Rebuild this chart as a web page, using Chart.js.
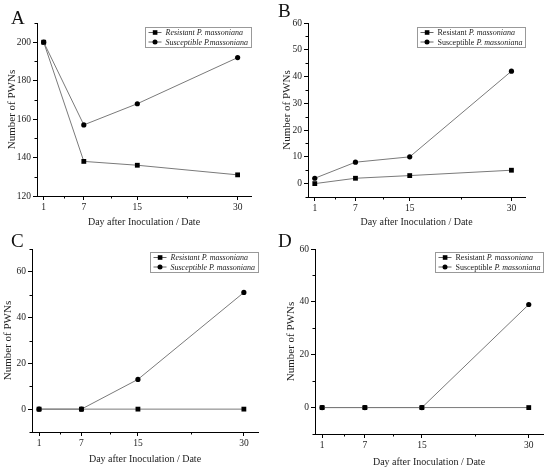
<!DOCTYPE html>
<html>
<head>
<meta charset="utf-8">
<script src="https://cdn.jsdelivr.net/npm/chart.js@4"></script>
<style>
  body { margin: 0; background: #fff; }
  #wrap { position: relative; width: 550px; height: 471px; overflow: hidden; }
  .panel { position: absolute; width: 275px; height: 235px; }
  .letter { position: absolute; font: 19px "Liberation Serif", serif; line-height: 1; color: #111; }
</style>
</head>
<body>
<div id="wrap">
  <div class="panel" style="left:0;top:0"><canvas id="chartA" width="275" height="235"></canvas></div>
  <div class="panel" style="left:275px;top:0"><canvas id="chartB" width="275" height="235"></canvas></div>
  <div class="panel" style="left:0;top:235px"><canvas id="chartC" width="275" height="235"></canvas></div>
  <div class="panel" style="left:275px;top:235px"><canvas id="chartD" width="275" height="235"></canvas></div>
  <div class="letter" style="left:11px;top:8px">A</div>
  <div class="letter" style="left:278px;top:1px">B</div>
  <div class="letter" style="left:11px;top:231px">C</div>
  <div class="letter" style="left:278px;top:231px">D</div>
</div>
<script>
// days sampled
const days = [1, 7, 15, 30];
const xTicks = [1, 7, 15, 30];
const xMinorTicks = [4, 11, 22.5];

// A
const resistantA = [200, 138, 136, 131];
const susceptibleA = [200, 157, 168, 192];
const yTicksA = [120, 140, 160, 180, 200];
const yMinorA = [130, 150, 170, 190, 210];

// B
const resistantB = [0, 2, 3, 5];
const susceptibleB = [2, 8, 10, 42];
const yTicksB = [0, 10, 20, 30, 40, 50, 60];
const yMinorB = [-5, 5, 15, 25, 35, 45, 55];

// C
const resistantC = [0, 0, 0, 0];
const susceptibleC = [0, 0, 13, 51];
const yTicksC = [0, 20, 40, 60];
const yMinorC = [-10, 10, 30, 50, 70];

// D
const resistantD = [0, 0, 0, 0];
const susceptibleD = [0, 0, 0, 39];
const yTicksD = [0, 20, 40, 60];
const yMinorD = [-10, 10, 30, 50];

const serif = "Liberation Serif";

// minor ticks + legend box inside the plot
const extras = {
  id: "extras",
  afterDraw(chart, args, opts) {
    const { ctx, chartArea } = chart;
    const x = chart.scales.x, y = chart.scales.y;
    ctx.save();
    ctx.strokeStyle = "#000";
    ctx.lineWidth = 1;
    ctx.beginPath();
    opts.xMinor.forEach((v) => {
      const px = Math.round(x.getPixelForValue(v)) + 0.5;
      ctx.moveTo(px, chartArea.bottom);
      ctx.lineTo(px, chartArea.bottom + 2.5);
    });
    opts.yMinor.forEach((v) => {
      const py = Math.round(y.getPixelForValue(v)) + 0.5;
      ctx.moveTo(chartArea.left, py);
      ctx.lineTo(chartArea.left - 2.5, py);
    });
    ctx.stroke();

    // legend
    const fontUp = "8px '" + serif + "'";
    const fontIt = "italic 8px '" + serif + "'";
    let maxW = 0;
    opts.items.forEach((it) => {
      ctx.font = it.allItalic ? fontIt : fontUp;
      let w = ctx.measureText(it.a).width;
      ctx.font = fontIt;
      w += ctx.measureText(it.b).width;
      maxW = Math.max(maxW, w);
    });
    const bw = Math.round(20 + maxW + 3);
    const bh = 20;
    const bx = Math.round(chartArea.right - bw) + 0.5;
    const by = Math.round(chartArea.top + opts.legendTop) + 0.5;
    ctx.strokeStyle = "#999";
    ctx.strokeRect(bx, by, bw, bh);
    opts.items.forEach((it, i) => {
      const cy = by + 5 + i * 9.5;
      ctx.strokeStyle = "#666";
      ctx.beginPath();
      ctx.moveTo(bx + 3, cy);
      ctx.lineTo(bx + 16, cy);
      ctx.stroke();
      ctx.fillStyle = "#000";
      ctx.beginPath();
      if (it.square) {
        ctx.rect(bx + 7.3, cy - 2.3, 4.6, 4.6);
      } else {
        ctx.arc(bx + 9.5, cy, 2.5, 0, Math.PI * 2);
      }
      ctx.fill();
      ctx.fillStyle = "#222";
      ctx.textBaseline = "middle";
      ctx.font = it.allItalic ? fontIt : fontUp;
      ctx.fillText(it.a, bx + 20, cy + 0.5);
      const w = ctx.measureText(it.a).width;
      ctx.font = fontIt;
      ctx.fillText(it.b, bx + 20 + w, cy + 0.5);
    });
    ctx.restore();
  },
};

function makeChart(id, res, sus, yMin, yMax, yTicks, yMinor, box, titleLeft, legend) {
  const ctx = document.getElementById(id).getContext("2d");
  return new Chart(ctx, {
    type: "line",
    data: {
      datasets: [
        {
          label: "Resistant P. massoniana",
          data: days.map((d, i) => ({ x: d, y: res[i] })),
          borderColor: "#7a7a7a",
          borderWidth: 1,
          pointStyle: "rect",
          pointRadius: 3.4,
          pointBackgroundColor: "#000",
          pointBorderColor: "#000",
          pointBorderWidth: 0,
        },
        {
          label: "Susceptible P. massoniana",
          data: days.map((d, i) => ({ x: d, y: sus[i] })),
          borderColor: "#7a7a7a",
          borderWidth: 1,
          pointStyle: "circle",
          pointRadius: 2.6,
          pointBackgroundColor: "#000",
          pointBorderColor: "#000",
          pointBorderWidth: 0,
        },
      ],
    },
    options: {
      responsive: false,
      animation: false,
      clip: false,
      layout: { padding: { left: 0, top: box.top, right: 275 - box.right, bottom: 0 } },
      plugins: {
        legend: { display: false },
        tooltip: { enabled: false },
        extras: { xMinor: xMinorTicks, yMinor: yMinor, items: legend.items, legendTop: legend.top },
      },
      scales: {
        x: {
          type: "linear",
          min: 0,
          max: 32,
          afterBuildTicks: (s) => { s.ticks = xTicks.map((v) => ({ value: v })); },
          afterFit: (s) => { s.height = 235 - box.bottom; },
          grid: { drawOnChartArea: false, drawTicks: true, tickLength: 4, tickColor: "#000" },
          border: { display: true, color: "#000", width: 1 },
          ticks: { font: { family: serif, size: 9.5 }, color: "#222", padding: 2, maxRotation: 0 },
          title: {
            display: true,
            text: "Day after Inoculation / Date",
            font: { family: serif, size: 10 },
            color: "#222",
            padding: { top: 0, bottom: box.xTitle },
          },
        },
        y: {
          min: yMin,
          max: yMax,
          afterBuildTicks: (s) => { s.ticks = yTicks.map((v) => ({ value: v })); },
          afterFit: (s) => { s.width = box.left; },
          grid: { drawOnChartArea: false, drawTicks: true, tickLength: 4, tickColor: "#000" },
          border: { display: true, color: "#000", width: 1 },
          ticks: { font: { family: serif, size: 9.5 }, color: "#222", padding: 2 },
          title: {
            display: true,
            text: "Number of PWNs",
            font: { family: serif, size: 11 },
            color: "#222",
            padding: { top: titleLeft, bottom: 0 },
          },
        },
      },
    },
    plugins: [extras],
  });
}

const legendA = {
  top: 4,
  items: [
    { a: "Resistant ", b: "P. massoniana", square: true, allItalic: true },
    { a: "Susceptible ", b: "P.massoniana", square: false, allItalic: true },
  ],
};
const legendB = {
  top: 4,
  items: [
    { a: "Resistant ", b: "P. massoniana", square: true, allItalic: false },
    { a: "Susceptible ", b: "P. massoniana", square: false, allItalic: false },
  ],
};
const legendC = {
  top: 3,
  items: [
    { a: "Resistant ", b: "P. massoniana", square: true, allItalic: true },
    { a: "Susceptible ", b: "P. massoniana", square: false, allItalic: true },
  ],
};
const legendD = {
  top: 3,
  items: [
    { a: "Resistant ", b: "P. massoniana", square: true, allItalic: false },
    { a: "Susceptible ", b: "P. massoniana", square: false, allItalic: false },
  ],
};

makeChart("chartA", resistantA, susceptibleA, 120, 210, yTicksA, yMinorA,
  { left: 37, top: 23, right: 251, bottom: 196, xTitle: 7 }, 6, legendA);
makeChart("chartB", resistantB, susceptibleB, -5, 60, yTicksB, yMinorB,
  { left: 33, top: 23, right: 250, bottom: 197, xTitle: 7 }, 6, legendB);
makeChart("chartC", resistantC, susceptibleC, -10, 70, yTicksC, yMinorC,
  { left: 32, top: 14, right: 258, bottom: 197, xTitle: 5 }, 2, legendC);
makeChart("chartD", resistantD, susceptibleD, -10, 60, yTicksD, yMinorD,
  { left: 40, top: 14, right: 268, bottom: 199, xTitle: 2 }, 10, legendD);
</script>
</body>
</html>
